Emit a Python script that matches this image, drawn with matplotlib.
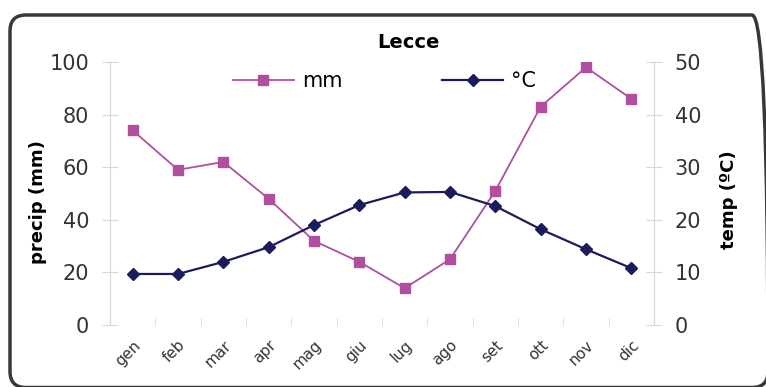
import numpy as np
import matplotlib.pyplot as plt
from matplotlib.patches import FancyBboxPatch
from matplotlib.transforms import ScaledTranslation

months = ['gen', 'feb', 'mar', 'apr', 'mag', 'giu', 'lug', 'ago', 'set', 'ott', 'nov', 'dic']
precip_mm = [74, 59, 62, 48, 32, 24, 14, 25, 51, 83, 98, 86]
temp_c = [9.7, 9.7, 12.0, 14.8, 19.0, 22.8, 25.2, 25.3, 22.6, 18.2, 14.4, 10.8]

pink = '#b04fa0'
navy = '#1c1c5c'
gray = '#d8d8d8'
txt = '#333333'

fig = plt.figure(figsize=(7.66, 3.87), dpi=100)

# rounded frame round the chart, in pixels; right and bottom sides sit on the edge
frame = FancyBboxPatch((10, -0.5), 758, 372.5,
                       boxstyle='round,pad=0,rounding_size=16',
                       transform=None, fill=False,
                       edgecolor='#383838', linewidth=2.5, clip_on=False)
fig.patches.append(frame)

ax = fig.add_axes([110 / 766, 1 - 325 / 387, 544 / 766, 263 / 387])
ax2 = ax.twinx()

x = np.arange(len(months))
l1, = ax.plot(x, precip_mm, color=pink, marker='s', markersize=7,
              linewidth=1.3, label='mm', zorder=3)
l2, = ax2.plot(x, temp_c, color=navy, marker='D', markersize=6,
               linewidth=1.6, label='°C', zorder=3)

ax.set_xlim(-0.5, 11.5)
ax.set_ylim(0, 100)
ax2.set_ylim(0, 50)
ax.set_yticks(np.arange(0, 101, 20))
ax2.set_yticks(np.arange(0, 51, 10))

ax.set_xticks(x)
ax.set_xticklabels(months, rotation=45, ha='right', va='top',
                   rotation_mode='anchor', fontsize=11, color=txt)
shift = ScaledTranslation(-6 / 72, 0, fig.dpi_scale_trans)
for lab in ax.get_xticklabels():
    lab.set_transform(lab.get_transform() + shift)
ax.set_xticks(np.arange(0.5, 11, 1), minor=True)
ax.tick_params(axis='x', which='major', length=0, pad=9)
ax.tick_params(axis='x', which='minor', length=5, color=gray, direction='in')

for a in (ax, ax2):
    for s in ('top', 'bottom'):
        a.spines[s].set_visible(False)
    for s in ('left', 'right'):
        a.spines[s].set_color(gray)
    a.tick_params(axis='y', length=12, direction='inout', color=gray,
                  labelsize=15, labelcolor=txt, pad=9)

ax.set_ylabel('precip (mm)', fontsize=13, fontweight='bold')
ax.yaxis.set_label_coords(-0.116, 0.468)
ax2.set_ylabel('temp (ºC)', fontsize=13, fontweight='bold')
ax2.yaxis.set_label_coords(1.121, 0.475)

fig.text(408 / 766, 1 - 42 / 387, 'Lecce', ha='center', va='center',
         fontsize=14, fontweight='bold')

ax.legend([l1, l2], ['mm', '°C'], ncol=2, frameon=False, fontsize=15,
          loc='center', bbox_to_anchor=(0.505, 0.928), columnspacing=4.8,
          handlelength=2.9, handletextpad=0.4)

fig.savefig('out.png', dpi=100)
